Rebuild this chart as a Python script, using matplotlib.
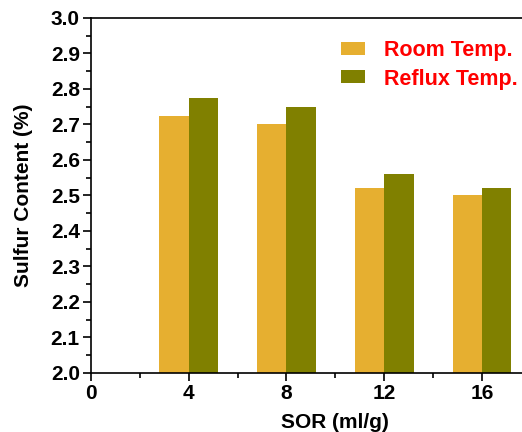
import matplotlib
matplotlib.use("Agg")
import matplotlib.pyplot as plt
import numpy as np
from matplotlib.ticker import MultipleLocator, FixedLocator, FormatStrFormatter
from matplotlib.patches import Patch

plt.rcParams['font.family'] = ['Liberation Sans', 'DejaVu Sans']
plt.rcParams['font.weight'] = 'bold'

sor = [4, 8, 12, 16]
room_temp = [2.725, 2.70, 2.52, 2.50]
reflux_temp = [2.775, 2.75, 2.56, 2.52]
series_labels = ["Room Temp.", "Reflux Temp."]
x_ticks = [0, 4, 8, 12, 16]
room_color = "#E6AF30"
reflux_color = "#808000"

fig = plt.figure(figsize=(5.22, 4.32), dpi=100)
ax = fig.add_axes([0.1743, 0.1366, 0.9363, 0.8218])

bar_w = 1.2
x = np.array(sor, dtype=float)
ax.bar(x - bar_w / 2, room_temp, width=bar_w, color=room_color)
ax.bar(x + bar_w / 2, reflux_temp, width=bar_w, color=reflux_color)

ax.set_xlim(0, 20)
ax.set_ylim(2.0, 3.0)
ax.set_xticks(x_ticks)
ax.xaxis.set_minor_locator(FixedLocator([2, 6, 10, 14, 18]))
ax.yaxis.set_major_locator(MultipleLocator(0.1))
ax.yaxis.set_minor_locator(MultipleLocator(0.05))
ax.yaxis.set_major_formatter(FormatStrFormatter('%.1f'))

for s in ['left', 'bottom', 'top', 'right']:
    ax.spines[s].set_linewidth(1.2)
ax.tick_params(axis='both', which='major', direction='out', length=6, width=1.2,
               labelsize=15, pad=2)
ax.tick_params(axis='both', which='minor', direction='out', length=3.5, width=1.2)
ax.tick_params(top=False, right=False, which='both')

ax.set_xlabel("SOR (ml/g)", fontsize=15, fontweight='bold', labelpad=7)
ax.set_ylabel("Sulfur Content (%)", fontsize=15, fontweight='bold', labelpad=13)

handles = [Patch(facecolor=room_color), Patch(facecolor=reflux_color)]
leg = ax.legend(handles, series_labels, loc='upper left', bbox_to_anchor=(0.5115, 0.938),
                frameon=False, fontsize=15.5, handlelength=1.12, handleheight=0.56,
                handletextpad=0.88, labelspacing=0.35, borderaxespad=0, borderpad=0)
for t in leg.get_texts():
    t.set_color('#FF0000')
    t.set_fontweight('bold')

fig.savefig("out.png", dpi=100)
